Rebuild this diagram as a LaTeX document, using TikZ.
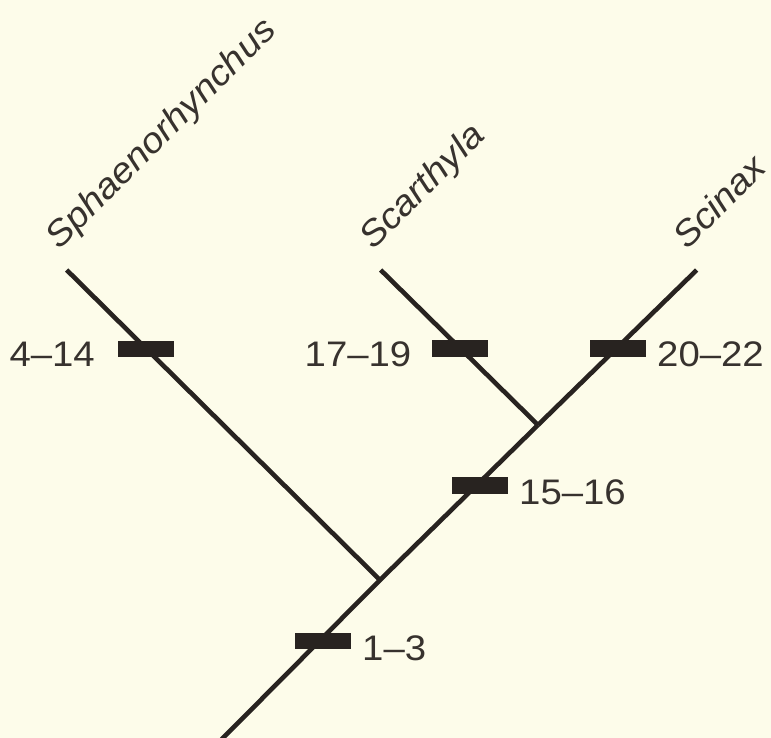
\documentclass[tikz,border=0pt]{standalone}
\usepackage{fontspec}
\newfontfamily\labfont[FakeStretch=1.08]{Liberation Sans}
\definecolor{bg}{RGB}{253,252,234}
\definecolor{ink}{RGB}{40,35,32}
\definecolor{txt}{RGB}{55,50,46}
\begin{document}
\begin{tikzpicture}[x=1pt,y=-1pt,
  branch/.style={draw=ink,line width=4.6pt,line cap=butt},
  bar/.style={rectangle,fill=ink,draw=none,minimum width=56pt,minimum height=16.5pt,inner sep=0pt},
  num/.style={text=txt,inner sep=0pt,font=\labfont\fontsize{35.5}{40}\selectfont},
  taxon/.style={text=txt,inner sep=0pt,rotate=45,anchor=base west,font=\labfont\itshape\fontsize{35.5}{40}\selectfont}]
\fill[bg] (0,0) rectangle (771,738);
\useasboundingbox (0,0) rectangle (771,738);
% coordinates
\coordinate (tS) at (66.7,270);
\coordinate (tC) at (380.7,270);
\coordinate (tX) at (696.7,270);
\coordinate (A) at (380,580);
\coordinate (B) at (538,425);
\coordinate (R) at (221,740);
% branches
\draw[branch] (tS) -- (A);
\draw[branch] (tC) -- (B);
\draw[branch] (tX) -- (B);
\draw[branch] (R) -- (A) -- (B);
% bars
\node[bar] (b1) at (145.5,349) {};
\node[bar] (b2) at (460,348.5) {};
\node[bar] (b3) at (618,348.5) {};
\node[bar] (b4) at (479.7,485.5) {};
\node[bar] (b5) at (322.5,641) {};
% character labels
\node[num,anchor=base east] (l1) at (95,366.5) {4–14};
\node[num,anchor=base east] (l2) at (411.5,366.5) {17–19};
\node[num,anchor=base west] (l3) at (657,366.5) {20–22};
\node[num,anchor=base west] (l4) at (519,504) {15–16};
\node[num,anchor=base west] (l5) at (362,660) {1–3};
% taxa
\node[taxon] (n1) at (59,251) {Sphaenorhynchus};
\node[taxon] (n2) at (373,251) {Scarthyla};
\node[taxon] (n3) at (687,251) {Scinax};
\end{tikzpicture}
\end{document}
